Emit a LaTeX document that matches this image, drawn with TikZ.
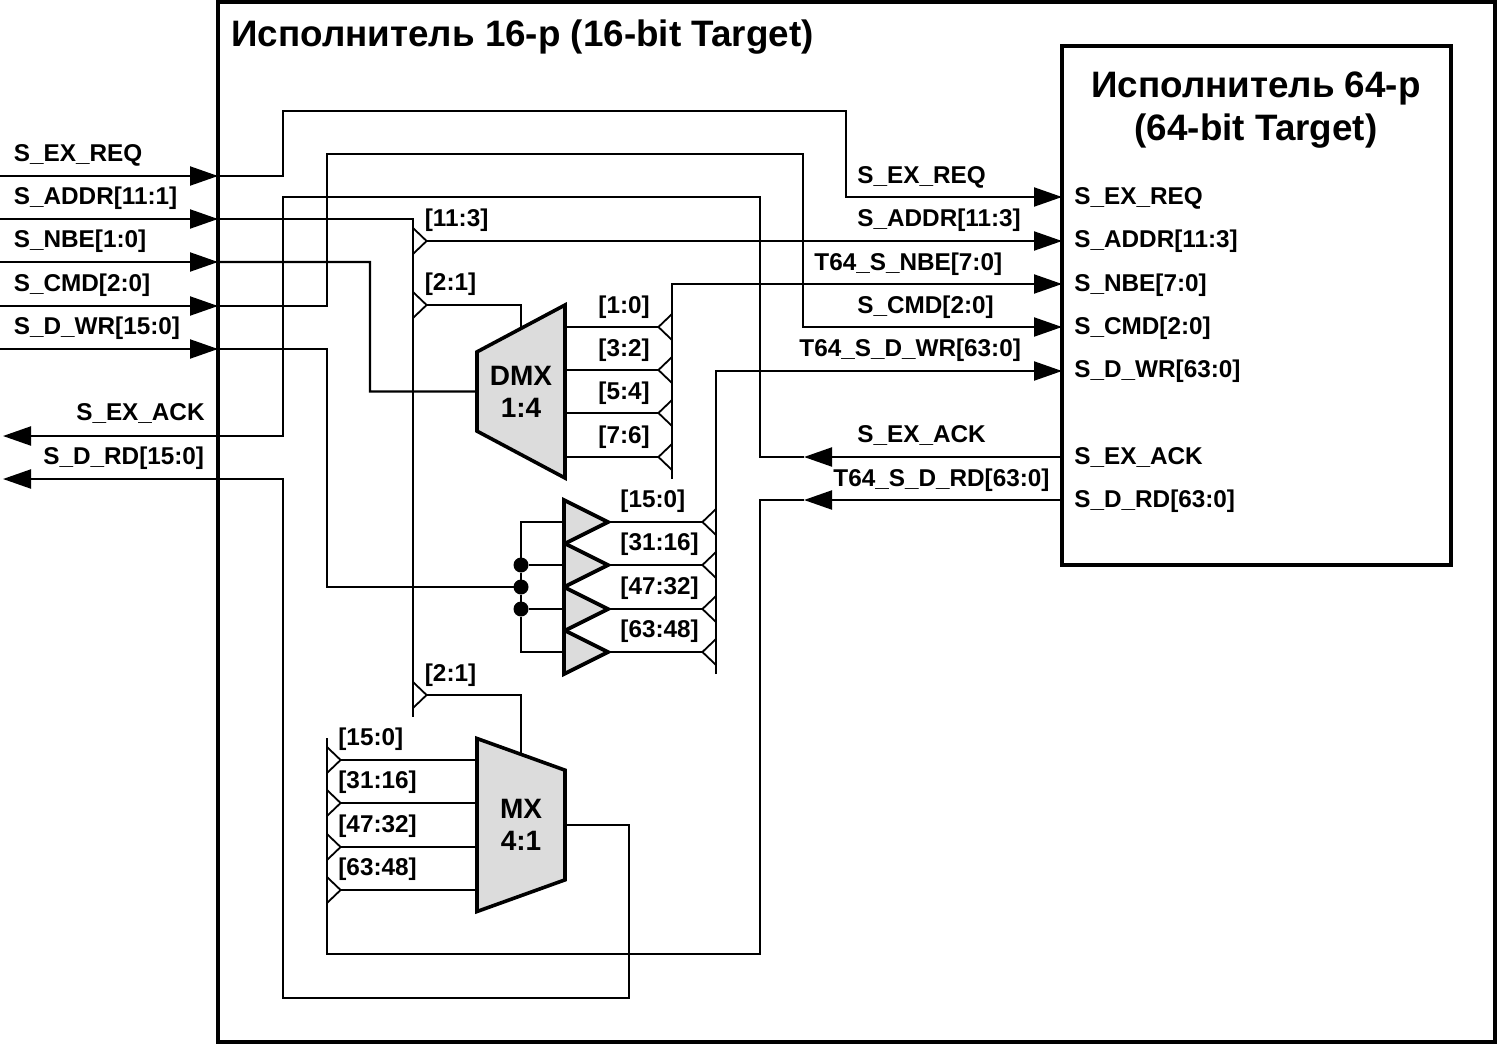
\documentclass[tikz,border=0pt]{standalone}
\usepackage{fontspec}
\setmainfont{Liberation Sans}
\usetikzlibrary{arrows.meta,positioning,shapes.geometric}
\definecolor{mxgray}{HTML}{DCDCDC}
\tikzset{
  boxblk/.style={draw,rectangle,line width=1.6pt,inner sep=0pt,outer sep=0pt},
  muxblk/.style={draw,trapezium,trapezium stretches body,trapezium left angle=53,trapezium right angle=53,
    minimum width=86.5pt,minimum height=44pt,inner sep=0pt,outer sep=0pt,line width=1.8pt,fill=mxgray,
    font=\fontsize{14}{16}\selectfont\bfseries,align=center},
  ampblk/.style={draw,isosceles triangle,isosceles triangle stretches,minimum width=22pt,minimum height=22pt,
    inner sep=0pt,outer sep=0pt,line width=1.9pt,fill=mxgray,anchor=lower side},
  tapr/.style={draw,isosceles triangle,isosceles triangle stretches,minimum width=13pt,minimum height=6.8pt,
    inner sep=0pt,outer sep=0pt,line width=0.9pt,anchor=lower side},
  tapl/.style={tapr,shape border rotate=180},
  jdot/.style={circle,fill=black,minimum size=7.5pt,inner sep=0pt,outer sep=0pt},
  wire/.style={line width=1.05pt},
  arr/.style={wire,-{Triangle[length=14pt,width=9.5pt]}},
  lbl/.style={font=\fontsize{12.15}{14}\selectfont\bfseries,inner sep=0pt,anchor=base west},
  lblr/.style={lbl,anchor=base east},
  ttl/.style={font=\fontsize{18.4}{21.5}\selectfont\bfseries,inner sep=0pt,align=center}
}
\begin{document}
\begin{tikzpicture}[x=0.5pt,y=-0.5pt]
  \useasboundingbox (0,0) rectangle (1497,1044);
  % blocks
  \node[boxblk,minimum width=638.5pt,minimum height=520pt] (frame) at (856.5,522) {};
  \node[boxblk,minimum width=194.5pt,minimum height=259.5pt] (tgt) at (1256.5,305.5) {};
  \node[muxblk,shape border rotate=90] (dmx) at (521,391.5) {DMX\\1:4};
  \node[muxblk,shape border rotate=270] (mx) at (521,825) {MX\\4:1};
  \node[ampblk] (amp1) at (564,522) {};
  \node[ampblk] (amp2) at (564,565) {};
  \node[ampblk] (amp3) at (564,609) {};
  \node[ampblk] (amp4) at (564,652) {};
  \node[jdot] (dota) at (521,565) {};
  \node[jdot] (dotb) at (521,587) {};
  \node[jdot] (dotc) at (521,609) {};

  % bus taps
  \node[tapr] (taphi) at (413,241) {};
  \node[tapr] (tapsd) at (413,305) {};
  \node[tapr] (tapsm) at (413,695) {};
  \node[tapl] (nbe1) at (672,327) {};
  \node[tapl] (nbe2) at (672,370) {};
  \node[tapl] (nbe3) at (672,413) {};
  \node[tapl] (nbe4) at (672,457) {};
  \node[tapl] (wr1) at (716,522) {};
  \node[tapl] (wr2) at (716,565) {};
  \node[tapl] (wr3) at (716,609) {};
  \node[tapl] (wr4) at (716,652) {};
  \node[tapr] (rd1) at (327,760) {};
  \node[tapr] (rd2) at (327,803) {};
  \node[tapr] (rd3) at (327,847) {};
  \node[tapr] (rd4) at (327,890) {};

  % ports and bends
  \coordinate (reqin) at (0,176);
  \coordinate (addrin) at (0,219);
  \coordinate (nbein) at (0,262);
  \coordinate (cmdin) at (0,306);
  \coordinate (wrin) at (0,349);
  \coordinate (ackout) at (3,436);
  \coordinate (rdout) at (3,479);
  \coordinate (reqa) at (283,111);
  \coordinate (reqb) at (846,197);
  \coordinate (cmda) at (327,154);
  \coordinate (cmdb) at (803,327);
  \coordinate (nbea) at (370,391.5);
  \coordinate (wra) at (327,587);
  \coordinate (addrbus) at (413,717);
  \coordinate (nbebot) at (672,479);
  \coordinate (nbetop) at (672,284);
  \coordinate (wrbot) at (716,674);
  \coordinate (wrtop) at (716,371);
  \coordinate (acka) at (804,457);
  \coordinate (ackb) at (760,197);
  \coordinate (ackc) at (283,436);
  \coordinate (rda) at (804,500);
  \coordinate (rdb) at (760,954);
  \coordinate (rdtop) at (327,738);
  \coordinate (mxa) at (629,998);
  \coordinate (mxb) at (283,479);

  % inputs
  \draw[arr] (reqin) -- (frame.west |- reqin);
  \draw[arr] (addrin) -- (frame.west |- addrin);
  \draw[arr] (nbein) -- (frame.west |- nbein);
  \draw[arr] (cmdin) -- (frame.west |- cmdin);
  \draw[arr] (wrin) -- (frame.west |- wrin);

  % write side
  \draw[arr] (frame.west |- reqin) -| (reqa) -| (reqb) -- (tgt.west |- reqb);
  \draw[arr] (frame.west |- cmdin) -| (cmda) -| (cmdb) -- (tgt.west |- cmdb);
  \draw[wire] (frame.west |- addrin) -| (addrbus);
  \draw[arr] (taphi.apex) -- (tgt.west |- taphi.apex);
  \draw[wire] (tapsd.apex) -| (dmx.north);
  \draw[wire] (frame.west |- nbein) -| (nbea) -- (dmx.west);
  \draw[wire] (nbe1.apex) -- (dmx.east |- nbe1.apex);
  \draw[wire] (nbe2.apex) -- (dmx.east |- nbe2.apex);
  \draw[wire] (nbe3.apex) -- (dmx.east |- nbe3.apex);
  \draw[wire] (nbe4.apex) -- (dmx.east |- nbe4.apex);
  \draw[arr] (nbebot) -- (nbetop) -- (tgt.west |- nbetop);
  \draw[wire] (frame.west |- wrin) -| (wra) -- (dotb);
  \draw[wire] (amp1.lower side) -| (dota);
  \draw[wire] (amp2.lower side) -- (dota) -- (dotb) -- (dotc) -- (amp3.lower side);
  \draw[wire] (amp4.lower side) -| (dotc);
  \draw[wire] (amp1.apex) -- (wr1.apex);
  \draw[wire] (amp2.apex) -- (wr2.apex);
  \draw[wire] (amp3.apex) -- (wr3.apex);
  \draw[wire] (amp4.apex) -- (wr4.apex);
  \draw[arr] (wrbot) -- (wrtop) -- (tgt.west |- wrtop);

  % read side
  \draw[arr] (tgt.west |- acka) -- (acka);
  \draw[arr] (acka) -| (ackb) -| (ackc) -- (ackout);
  \draw[arr] (tgt.west |- rda) -- (rda);
  \draw[wire] (rda) -| (rdb) -| (rdtop);
  \draw[wire] (tapsm.apex) -| (mx.north);
  \draw[wire] (rd1.apex) -- (mx.west |- rd1.apex);
  \draw[wire] (rd2.apex) -- (mx.west |- rd2.apex);
  \draw[wire] (rd3.apex) -- (mx.west |- rd3.apex);
  \draw[wire] (rd4.apex) -- (mx.west |- rd4.apex);
  \draw[arr] (mx.east) -| (mxa) -| (mxb) -- (rdout);

  % titles
  \node[ttl,anchor=base west] (ttlfrm) at (231,46) {Исполнитель 16-р (16-bit Target)};
  \node[ttl,anchor=base] (ttltgt) at (1256,140) {Исполнитель 64-р\\(64-bit Target)};

  % left labels
  \node[lbl] (inreq) at (13.5,161) {S\_EX\_REQ};
  \node[below=21.67pt of inreq.base west,lbl] (inaddr) {S\_ADDR[11:1]};
  \node[below=21.67pt of inaddr.base west,lbl] (innbe) {S\_NBE[1:0]};
  \node[below=21.67pt of innbe.base west,lbl] (incmd) {S\_CMD[2:0]};
  \node[below=21.67pt of incmd.base west,lbl] (inwr) {S\_D\_WR[15:0]};
  \node[lblr] (outack) at (205,420) {S\_EX\_ACK};
  \node[lblr] (outrd) at (204.5,464) {S\_D\_RD[15:0]};

  % bus labels
  \node[lbl] (lhi) at (424.5,226) {[11:3]};
  \node[lbl] (lsd) at (424.5,290) {[2:1]};
  \node[lbl] (lsm) at (424.5,681) {[2:1]};
  \node[lbl] (lnbe1) at (598,313) {[1:0]};
  \node[below=21.67pt of lnbe1.base west,lbl] (lnbe2) {[3:2]};
  \node[below=21.67pt of lnbe2.base west,lbl] (lnbe3) {[5:4]};
  \node[below=21.67pt of lnbe3.base west,lbl] (lnbe4) {[7:6]};
  \node[lbl] (lwr1) at (620,507.5) {[15:0]};
  \node[below=21.67pt of lwr1.base west,lbl] (lwr2) {[31:16]};
  \node[below=21.67pt of lwr2.base west,lbl] (lwr3) {[47:32]};
  \node[below=21.67pt of lwr3.base west,lbl] (lwr4) {[63:48]};
  \node[lbl] (lrd1) at (338,745.5) {[15:0]};
  \node[below=21.67pt of lrd1.base west,lbl] (lrd2) {[31:16]};
  \node[below=21.67pt of lrd2.base west,lbl] (lrd3) {[47:32]};
  \node[below=21.67pt of lrd3.base west,lbl] (lrd4) {[63:48]};

  % middle labels
  \node[lbl] (mreq) at (857,183) {S\_EX\_REQ};
  \node[lbl] (maddr) at (857,226) {S\_ADDR[11:3]};
  \node[lbl] (mnbe) at (814,270) {T64\_S\_NBE[7:0]};
  \node[lbl] (mcmd) at (857,313) {S\_CMD[2:0]};
  \node[lbl] (mwr) at (799,356) {T64\_S\_D\_WR[63:0]};
  \node[lbl] (mack) at (857,442) {S\_EX\_ACK};
  \node[lbl] (mrd) at (833,486) {T64\_S\_D\_RD[63:0]};

  % target labels
  \node[lbl] (treq) at (1074,204.5) {S\_EX\_REQ};
  \node[below=21.67pt of treq.base west,lbl] (taddr) {S\_ADDR[11:3]};
  \node[below=21.67pt of taddr.base west,lbl] (tnbe) {S\_NBE[7:0]};
  \node[below=21.67pt of tnbe.base west,lbl] (tcmd) {S\_CMD[2:0]};
  \node[below=21.67pt of tcmd.base west,lbl] (twr) {S\_D\_WR[63:0]};
  \node[lbl] (tack) at (1074,464) {S\_EX\_ACK};
  \node[below=21.67pt of tack.base west,lbl] (trd) {S\_D\_RD[63:0]};
\end{tikzpicture}
\end{document}
